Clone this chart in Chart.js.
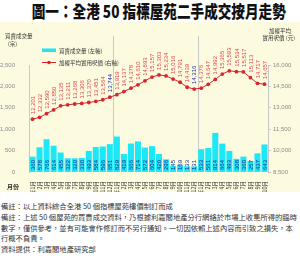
<!DOCTYPE html>
<html><head><meta charset="utf-8">
<script src="https://cdn.jsdelivr.net/npm/chart.js@4/dist/chart.umd.min.js"></script>
<style>
html,body{margin:0;padding:0;background:#fff;width:300px;height:258px;overflow:hidden;}
#title{position:absolute;left:0;top:0;width:300px;height:22px;text-align:center;white-space:nowrap;}
#title span{display:inline-block;font-family:"Noto Sans CJK TC";font-weight:900;font-size:17px;line-height:22px;color:#111;transform:scaleX(0.8);transform-origin:50% 50%;}
#wrap{position:absolute;left:0;top:22px;width:300px;height:170px;}
#notes{position:absolute;left:1px;top:201px;width:298px;font-family:"Noto Sans CJK TC";font-size:7.3px;line-height:10.8px;color:#333;}
</style></head>
<body>
<div id="title"><span>圖一：全港 50 指標屋苑二手成交按月走勢</span></div>
<div id="wrap"><canvas id="c" width="300" height="170"></canvas></div>
<div id="notes">
備註：以上資料綜合全港 50 個指標屋苑樓價制訂而成<br>
備註：上述 50 個屋苑的買賣成交資料，乃根據利嘉閣地產分行網絡於市場上收集所得的臨時數字，僅供參考，並有可能會作修訂而不另行通知。一切因依賴上述內容而引致之損失，本行概不負責。<br>
資料提供：利嘉閣地產研究部
</div>
<script>
const months = ['17年1月','2月','3月','4月','5月','6月','7月','8月','9月','10月','11月','12月',
 '18年1月','2月','3月','4月','5月','6月','7月','8月','9月','10月','11月','12月',
 '19年1月','2月','3月','4月','5月','6月','7月','8月','9月','10月'];
const volume = [360,578,766,614,455,322,320,330,493,584,596,651,
 829,419,666,714,572,604,420,296,145,169,133,131,
 533,561,914,664,493,308,360,257,437,643];
const price = [12201,12332,12590,12850,13135,13211,13268,13306,13370,13451,13564,13744,
 13919,14137,14378,14610,14893,15157,15303,15234,15016,14791,14439,14316,
 14376,14647,14992,15365,15593,15534,15517,15113,14717,14657];
const leftTicks = [0,500,1000,1500,2000,2500];
const rightTicks = [8500,10000,11500,13000,14500,16000];
const blueIdx = [11,23];
const yearBreaks = [12,24];

const numFont = '"Liberation Sans", Arial, sans-serif';
const cjk = '"Noto Sans CJK TC", sans-serif';
const fmt = v => v.toLocaleString('en-US');

const deco = {
  id:'deco',
  beforeDraw(ch){
    const c = ch.ctx;
    c.save(); c.fillStyle = '#fdfbdf'; c.fillRect(0,0,ch.width,ch.height); c.restore();
  },
  beforeDatasetsDraw(ch){
    const c = ch.ctx, x = ch.scales.x, a = ch.chartArea;
    c.save(); c.strokeStyle = '#c9c9c9'; c.lineWidth = 1;
    yearBreaks.forEach(i=>{
      const px = Math.round((x.getPixelForValue(i-1)+x.getPixelForValue(i))/2)+0.5;
      c.beginPath(); c.moveTo(px, 14); c.lineTo(px, a.bottom); c.stroke();
    });
    c.restore();
  },
  afterDatasetsDraw(ch){
    const c = ch.ctx;
    const barMeta = ch.getDatasetMeta(1), lineMeta = ch.getDatasetMeta(0);
    c.save();
    c.font = '6px ' + numFont; c.textBaseline = 'middle'; c.textAlign = 'left';
    barMeta.data.forEach((b,i)=>{
      c.save(); c.translate(b.x, b.base - 2); c.rotate(-Math.PI/2);
      c.fillStyle = '#1d2a8c'; c.fillText(fmt(volume[i]), 0, 0.5); c.restore();
    });
    lineMeta.data.forEach((p,i)=>{
      c.save(); c.translate(p.x, p.y - 5); c.rotate(-Math.PI/2);
      c.fillStyle = blueIdx.includes(i) ? '#1b2a9a' : '#e0454b';
      c.fillText(fmt(price[i]), 0, 0.5); c.restore();
    });
    c.restore();
  },
  afterDraw(ch){
    const c = ch.ctx;
    c.save();
    c.fillStyle = '#333'; c.font = '5.5px ' + cjk; c.textBaseline = 'middle';
    c.textAlign = 'left';
    c.fillText('買賣成交量', 5, 14); c.fillText('(宗)', 8, 22);
    c.textAlign = 'right';
    c.fillText('加權平均', 291, 9); c.fillText('實用呎價 (元)', 295, 16);
    c.textAlign = 'left';
    c.fillStyle = '#1ee8f8'; c.fillRect(42, 26.5, 14, 3.5);
    c.fillStyle = '#333'; c.fillText('買賣成交量 (左軸)', 59, 28.5);
    c.strokeStyle = '#d8262e'; c.lineWidth = 1;
    c.beginPath(); c.moveTo(42, 40.5); c.lineTo(56, 40.5); c.stroke();
    c.fillStyle = '#d8262e'; c.beginPath(); c.arc(49, 40.5, 1.8, 0, Math.PI*2); c.fill();
    c.fillStyle = '#333'; c.fillText('加權平均實用呎價 (右軸)', 59, 40.5);
    c.font = 'bold 6px ' + cjk; c.fillText('月份', 7, 165);
    c.restore();
  }
};

new Chart(document.getElementById('c'), {
  data:{
    labels: months,
    datasets:[
      {type:'line', data: price, yAxisID:'y2', order:0, borderColor:'#d8262e', borderWidth:1,
       pointRadius:1.9, pointBackgroundColor:'#d8262e', pointBorderWidth:0, tension:0},
      {type:'bar', data: volume, yAxisID:'y', order:1, backgroundColor:'#1ee8f8',
       categoryPercentage:1, barPercentage:0.86}
    ]
  },
  options:{
    responsive:false, animation:false, devicePixelRatio:1,
    layout:{padding:{top:43, left:0, right:0, bottom:0}},
    plugins:{legend:{display:false}, tooltip:{enabled:false}},
    scales:{
      x:{
        grid:{display:false}, border:{display:false},
        ticks:{font:{size:5.5, family:cjk}, color:'#333', maxRotation:90, minRotation:90, autoSkip:false, padding:1},
        afterFit(s){ s.height = 20; }
      },
      y:{
        position:'left', min:0, max:2500,
        afterBuildTicks(s){ s.ticks = leftTicks.map(v=>({value:v})); },
        grid:{display:false}, border:{display:true, color:'#f0b8b8'},
        ticks:{font:{size:6, family:numFont}, color:'#8a8a8a', padding:6, callback:v=>fmt(v)},
        afterFit(s){ s.width = 29; }
      },
      y2:{
        position:'right', min:8500, max:16000,
        afterBuildTicks(s){ s.ticks = rightTicks.map(v=>({value:v})); },
        grid:{display:true, drawOnChartArea:false, drawTicks:true, tickLength:3, color:'#c8c8c8'},
        border:{display:true, color:'#c8c8c8'},
        ticks:{font:{size:6, family:numFont}, color:'#8a8a8a', padding:2, callback:v=>fmt(v)},
        afterFit(s){ s.width = 32; }
      }
    }
  },
  plugins:[deco]
});
</script>
</body></html>
